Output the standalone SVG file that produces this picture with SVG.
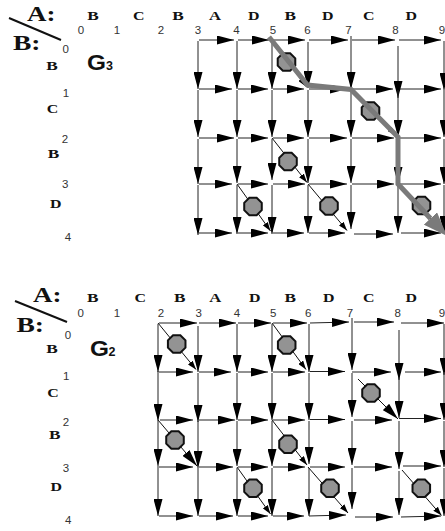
<svg xmlns="http://www.w3.org/2000/svg" xmlns:xlink="http://www.w3.org/1999/xlink" width="445" height="531" viewBox="0 0 445 531">
<style>
.e{stroke:#222;stroke-width:1;fill:none;marker-end:url(#ah)}
.d{stroke:#111;stroke-width:1;fill:none;marker-end:url(#sh)}
.db{stroke:#111;stroke-width:1;fill:none;marker-end:url(#ah)}
.oct{fill:#939393;stroke:#111;stroke-width:2}
.gp{stroke:#7a7a7a;stroke-width:5;fill:none;stroke-linejoin:miter;marker-end:url(#gh)}
.lt{font-family:"Liberation Serif","Times New Roman",serif;font-weight:bold;fill:#111}
.cl{font-size:13px}
.big{font-size:22px}
.nm{font-family:"Liberation Sans",Arial,sans-serif;font-size:11.5px;fill:#333;text-anchor:middle}
.g{font-family:"Liberation Sans",Arial,sans-serif;font-weight:bold;fill:#111}
.sl{stroke:#111;stroke-width:2}
</style>
<defs>
<marker id="ah" markerUnits="userSpaceOnUse" viewBox="0 0 17 9" markerWidth="17" markerHeight="9" refX="17" refY="4.5" orient="auto"><path d="M0,0L17,4.5L0,9Z" fill="#000"/></marker>
<marker id="sh" markerUnits="userSpaceOnUse" viewBox="0 0 9 6" markerWidth="9" markerHeight="6" refX="9" refY="3" orient="auto"><path d="M0,0L9,3L0,6Z" fill="#000"/></marker>
<marker id="gh" markerUnits="userSpaceOnUse" viewBox="0 0 24 18" markerWidth="24" markerHeight="18" refX="0" refY="9" orient="auto"><path d="M0,0L24,9L0,18Z" fill="#7a7a7a"/></marker>
<polygon id="oc" points="8.78,3.64 3.64,8.78 -3.64,8.78 -8.78,3.64 -8.78,-3.64 -3.64,-8.78 3.64,-8.78 8.78,-3.64"/>
</defs>

<g id="labels-g3">
<line class="sl" x1="9" y1="18" x2="61" y2="40"/>
<text class="lt big" x="27" y="20.7" textLength="28.5" lengthAdjust="spacingAndGlyphs">A:</text>
<text class="lt big" x="13" y="50" textLength="27.5" lengthAdjust="spacingAndGlyphs">B:</text>
<g class="lt cl" text-anchor="middle">
<text x="93" y="19.5" textLength="11.5" lengthAdjust="spacingAndGlyphs">B</text>
<text x="138.7" y="19.5" textLength="11.5" lengthAdjust="spacingAndGlyphs">C</text>
<text x="178" y="19.5" textLength="11.5" lengthAdjust="spacingAndGlyphs">B</text>
<text x="215" y="19.5" textLength="12" lengthAdjust="spacingAndGlyphs">A</text>
<text x="253.7" y="19.5" textLength="11.5" lengthAdjust="spacingAndGlyphs">D</text>
<text x="290.3" y="19.5" textLength="11.5" lengthAdjust="spacingAndGlyphs">B</text>
<text x="327.8" y="19.5" textLength="11.5" lengthAdjust="spacingAndGlyphs">D</text>
<text x="368.7" y="19.5" textLength="11.5" lengthAdjust="spacingAndGlyphs">C</text>
<text x="411.2" y="19.5" textLength="11.5" lengthAdjust="spacingAndGlyphs">D</text>
<text x="52" y="70" textLength="11.5" lengthAdjust="spacingAndGlyphs">B</text>
<text x="52.5" y="113" textLength="11.5" lengthAdjust="spacingAndGlyphs">C</text>
<text x="53.5" y="157.7" textLength="11.5" lengthAdjust="spacingAndGlyphs">B</text>
<text x="55.8" y="208" textLength="11.5" lengthAdjust="spacingAndGlyphs">D</text>
</g>
<g class="nm">
<text x="81" y="34">0</text><text x="117" y="34">1</text><text x="161" y="34">2</text><text x="198" y="34">3</text><text x="236.5" y="34">4</text><text x="273" y="34">5</text><text x="307.5" y="34">6</text><text x="348.5" y="34">7</text><text x="395.5" y="34">8</text><text x="442" y="34">9</text>
<text x="65.7" y="53.3">0</text><text x="66" y="96.7">1</text><text x="65" y="142.7">2</text><text x="65.3" y="188.3">3</text><text x="68" y="240.7">4</text>
</g>
<text class="g" x="87" y="70" font-size="22" textLength="19" lengthAdjust="spacingAndGlyphs">G</text>
<text class="g" x="106" y="70" font-size="12.5">3</text>
</g>

<g id="labels-g2">
<line class="sl" x1="15" y1="301" x2="67" y2="322"/>
<text class="lt big" x="33" y="301.7" textLength="28.5" lengthAdjust="spacingAndGlyphs">A:</text>
<text class="lt big" x="16.5" y="331.7" textLength="27.5" lengthAdjust="spacingAndGlyphs">B:</text>
<g class="lt cl" text-anchor="middle">
<text x="92.7" y="301.7" textLength="11.5" lengthAdjust="spacingAndGlyphs">B</text>
<text x="140.3" y="301.7" textLength="11.5" lengthAdjust="spacingAndGlyphs">C</text>
<text x="179.7" y="301.7" textLength="11.5" lengthAdjust="spacingAndGlyphs">B</text>
<text x="215.3" y="301.7" textLength="12" lengthAdjust="spacingAndGlyphs">A</text>
<text x="254.7" y="301.7" textLength="11.5" lengthAdjust="spacingAndGlyphs">D</text>
<text x="290.3" y="301.7" textLength="11.5" lengthAdjust="spacingAndGlyphs">B</text>
<text x="328.7" y="301.7" textLength="11.5" lengthAdjust="spacingAndGlyphs">D</text>
<text x="368.7" y="301.7" textLength="11.5" lengthAdjust="spacingAndGlyphs">C</text>
<text x="411.3" y="301.7" textLength="11.5" lengthAdjust="spacingAndGlyphs">D</text>
<text x="52" y="353.3" textLength="11.5" lengthAdjust="spacingAndGlyphs">B</text>
<text x="53" y="396.7" textLength="11.5" lengthAdjust="spacingAndGlyphs">C</text>
<text x="54.7" y="439.3" textLength="11.5" lengthAdjust="spacingAndGlyphs">B</text>
<text x="56.2" y="490.7" textLength="11.5" lengthAdjust="spacingAndGlyphs">D</text>
</g>
<g class="nm">
<text x="80.7" y="317">0</text><text x="117" y="317">1</text><text x="161" y="317">2</text><text x="198.7" y="317">3</text><text x="237" y="317">4</text><text x="273.2" y="317">5</text><text x="308.2" y="317">6</text><text x="350" y="317">7</text><text x="397.7" y="317">8</text><text x="442" y="317">9</text>
<text x="68" y="339">0</text><text x="66.3" y="380">1</text><text x="66" y="426">2</text><text x="66" y="471.5">3</text><text x="68.3" y="524">4</text>
</g>
<text class="g" x="90" y="356" font-size="22" textLength="19" lengthAdjust="spacingAndGlyphs">G</text>
<text class="g" x="108.5" y="356" font-size="12.5">2</text>
</g>

<g id="connectors">
<g id="g3-edges" class="e">
<line x1="199" y1="40" x2="234" y2="40"/><line x1="238" y1="40" x2="269" y2="40"/><line x1="273" y1="40" x2="305" y2="40"/><line x1="309" y1="40" x2="348" y2="40"/><line x1="352" y1="40" x2="395" y2="40"/><line x1="399" y1="40" x2="441" y2="40"/>
<line x1="199" y1="89" x2="232" y2="89"/><line x1="238" y1="89" x2="268" y2="89"/><line x1="273" y1="89" x2="304" y2="89"/><line x1="309" y1="89" x2="347" y2="89"/><line x1="352" y1="89" x2="393" y2="89"/><line x1="399" y1="89" x2="441" y2="89"/>
<line x1="199" y1="138" x2="234" y2="138"/><line x1="238" y1="138" x2="268" y2="138"/><line x1="273" y1="138" x2="304" y2="138"/><line x1="309" y1="138" x2="347" y2="138"/><line x1="352" y1="138" x2="394" y2="138"/><line x1="399" y1="138" x2="441" y2="138"/>
<line x1="199" y1="184" x2="232" y2="184"/><line x1="238" y1="184" x2="268" y2="184"/><line x1="273" y1="184" x2="305" y2="184"/><line x1="309" y1="184" x2="347" y2="184"/><line x1="352" y1="184" x2="394" y2="184"/><line x1="399" y1="184" x2="441" y2="184"/>
<line x1="199" y1="233" x2="232" y2="233"/><line x1="238" y1="233" x2="268" y2="233"/><line x1="273" y1="233" x2="304" y2="233"/><line x1="309" y1="233" x2="345" y2="233"/><line x1="354" y1="234" x2="393" y2="234"/><line x1="401" y1="233" x2="441" y2="233"/>
<line x1="198" y1="41" x2="198" y2="89"/><line x1="198" y1="90" x2="198" y2="137"/><line x1="198" y1="139" x2="198" y2="184"/><line x1="198" y1="185" x2="198" y2="235"/>
<line x1="237" y1="41" x2="237" y2="89"/><line x1="237" y1="90" x2="237" y2="137"/><line x1="237" y1="139" x2="237" y2="183"/><line x1="237" y1="185" x2="237" y2="234"/>
<line x1="272" y1="41" x2="272" y2="89"/><line x1="272" y1="90" x2="272" y2="137"/><line x1="272" y1="139" x2="272" y2="180"/><line x1="272" y1="185" x2="272" y2="234"/>
<line x1="308" y1="42" x2="308" y2="88"/><line x1="308" y1="90" x2="308" y2="137"/><line x1="308" y1="139" x2="308" y2="183"/><line x1="308" y1="185" x2="308" y2="233"/>
<line x1="351" y1="36" x2="351" y2="89"/><line x1="351" y1="90" x2="351" y2="137"/><line x1="351" y1="139" x2="351" y2="183"/><line x1="351" y1="185" x2="351" y2="229"/>
<line x1="398" y1="46" x2="398" y2="98"/><line x1="398" y1="90" x2="398" y2="137"/><line x1="398" y1="139" x2="398" y2="184"/><line x1="398" y1="185" x2="398" y2="233"/>
<line x1="444" y1="41" x2="444" y2="90"/><line x1="444" y1="90" x2="444" y2="137"/><line x1="444" y1="139" x2="444" y2="184"/><line x1="444" y1="185" x2="444" y2="233"/>
</g>
<g id="g3-diag" class="d">
<line x1="272" y1="40" x2="306" y2="86.5"/>
<line x1="351" y1="89" x2="396" y2="135.5"/>
<line x1="272" y1="138" x2="307" y2="182.5"/>
<line x1="237" y1="184" x2="270.5" y2="231"/>
<line x1="308" y1="184" x2="347" y2="230.5"/>
<line x1="398" y1="184" x2="441" y2="230"/>
</g>
<g id="g2-edges" class="e">
<line x1="159" y1="323" x2="197" y2="323"/><line x1="199" y1="323" x2="236" y2="323"/><line x1="238" y1="323" x2="271" y2="323"/><line x1="273" y1="323" x2="307" y2="323"/><line x1="310" y1="323" x2="349" y2="322"/><line x1="354" y1="322" x2="394" y2="322"/><line x1="401" y1="323" x2="444" y2="323"/>
<line x1="157" y1="372" x2="193" y2="372"/><line x1="199" y1="372" x2="231" y2="372"/><line x1="238" y1="372" x2="268" y2="372"/><line x1="273" y1="372" x2="305" y2="372"/><line x1="310" y1="371.5" x2="345" y2="371.5"/><line x1="352" y1="372" x2="391" y2="372"/><line x1="405" y1="372" x2="441" y2="372"/>
<line x1="160" y1="420" x2="193" y2="420"/><line x1="199" y1="420" x2="235" y2="420"/><line x1="238" y1="420" x2="268" y2="420"/><line x1="273" y1="420" x2="305" y2="420"/><line x1="310" y1="419.5" x2="345" y2="419.5"/><line x1="354" y1="420" x2="392" y2="420"/><line x1="399" y1="418.5" x2="441" y2="418.5"/>
<line x1="157" y1="467" x2="193" y2="467"/><line x1="199" y1="467" x2="233" y2="467"/><line x1="238" y1="467" x2="268" y2="467"/><line x1="273" y1="467" x2="305" y2="467"/><line x1="310" y1="467" x2="345" y2="467"/><line x1="354" y1="467" x2="392" y2="467"/><line x1="403" y1="466" x2="441" y2="466"/>
<line x1="159" y1="516" x2="193" y2="516"/><line x1="199" y1="516" x2="233" y2="516"/><line x1="238" y1="516" x2="268" y2="516"/><line x1="273" y1="516" x2="304" y2="516"/><line x1="309" y1="516" x2="346" y2="515"/><line x1="355" y1="517" x2="393" y2="517"/><line x1="401" y1="517" x2="441" y2="516"/>
<line x1="158" y1="324" x2="158" y2="372"/><line x1="158" y1="373" x2="158" y2="421"/><line x1="158" y1="421" x2="158" y2="466"/><line x1="158" y1="468" x2="158" y2="516"/>
<line x1="198" y1="326" x2="198" y2="372"/><line x1="198" y1="373" x2="198" y2="422"/><line x1="198" y1="421" x2="198" y2="468"/><line x1="198" y1="468" x2="198" y2="516"/>
<line x1="237" y1="324" x2="237" y2="372"/><line x1="237" y1="373" x2="237" y2="420"/><line x1="237" y1="421" x2="237" y2="466"/><line x1="237" y1="468" x2="237" y2="516"/>
<line x1="272" y1="324" x2="272" y2="372"/><line x1="272" y1="373" x2="272" y2="420"/><line x1="272" y1="421" x2="272" y2="466"/><line x1="272" y1="468" x2="272" y2="516"/>
<line x1="309" y1="324" x2="309" y2="372"/><line x1="309" y1="373" x2="309" y2="420"/><line x1="309" y1="421" x2="309" y2="464"/><line x1="309" y1="468" x2="309" y2="516"/>
<line x1="352" y1="318" x2="352" y2="370"/><line x1="352" y1="373" x2="352" y2="417"/><line x1="352" y1="421" x2="352" y2="465"/><line x1="352" y1="468" x2="352" y2="509"/>
<line x1="399" y1="330" x2="399" y2="380"/><line x1="399" y1="377" x2="399" y2="418"/><line x1="399" y1="421" x2="399" y2="469"/><line x1="399" y1="471" x2="399" y2="515"/>
<line x1="444" y1="324" x2="444" y2="375"/><line x1="444" y1="373" x2="444" y2="420"/><line x1="444" y1="421" x2="444" y2="467"/><line x1="444" y1="468" x2="444" y2="516"/>
</g>
<g id="g2-diag">
<line class="d" x1="158" y1="323" x2="196" y2="369.5"/>
<line class="d" x1="272" y1="323" x2="306" y2="369.5"/>
<line class="db" x1="358" y1="379" x2="398" y2="419"/>
<line class="db" x1="158" y1="420" x2="197" y2="466"/>
<line class="d" x1="272" y1="420" x2="307" y2="465"/>
<line class="d" x1="237" y1="467" x2="270.5" y2="514"/>
<line class="d" x1="308" y1="467" x2="348" y2="513"/>
<line class="d" x1="402" y1="470" x2="441.5" y2="515.5"/>
</g>
</g>

<g id="matches-g3" class="oct">
<g id="m3-0-5"><use xlink:href="#oc" x="286.5" y="62"/></g>
<g id="m3-1-7"><use xlink:href="#oc" x="370.5" y="111"/></g>
<g id="m3-2-5"><use xlink:href="#oc" x="288" y="161.5"/></g>
<g id="m3-3-4"><use xlink:href="#oc" x="253" y="206.5"/></g>
<g id="m3-3-6"><use xlink:href="#oc" x="329" y="206"/></g>
<g id="m3-3-8"><use xlink:href="#oc" x="421.5" y="205.5"/></g>
</g>
<g id="matches-g2" class="oct">
<g id="m2-0-2"><use xlink:href="#oc" x="176.7" y="344"/></g>
<g id="m2-0-5"><use xlink:href="#oc" x="286.7" y="345"/></g>
<g id="m2-1-7"><use xlink:href="#oc" x="371" y="393"/></g>
<g id="m2-2-2"><use xlink:href="#oc" x="175" y="440"/></g>
<g id="m2-2-5"><use xlink:href="#oc" x="288" y="444.3"/></g>
<g id="m2-3-4"><use xlink:href="#oc" x="253" y="488.3"/></g>
<g id="m2-3-6"><use xlink:href="#oc" x="330" y="488.3"/></g>
<g id="m2-3-8"><use xlink:href="#oc" x="421.3" y="488.3"/></g>
</g>

<g id="trace-g3">
<path class="gp" d="M269,37 L307.5,85 L351,89.5 L398,137 L398,184 L430.5,218.5"/>
</g>
</svg>
